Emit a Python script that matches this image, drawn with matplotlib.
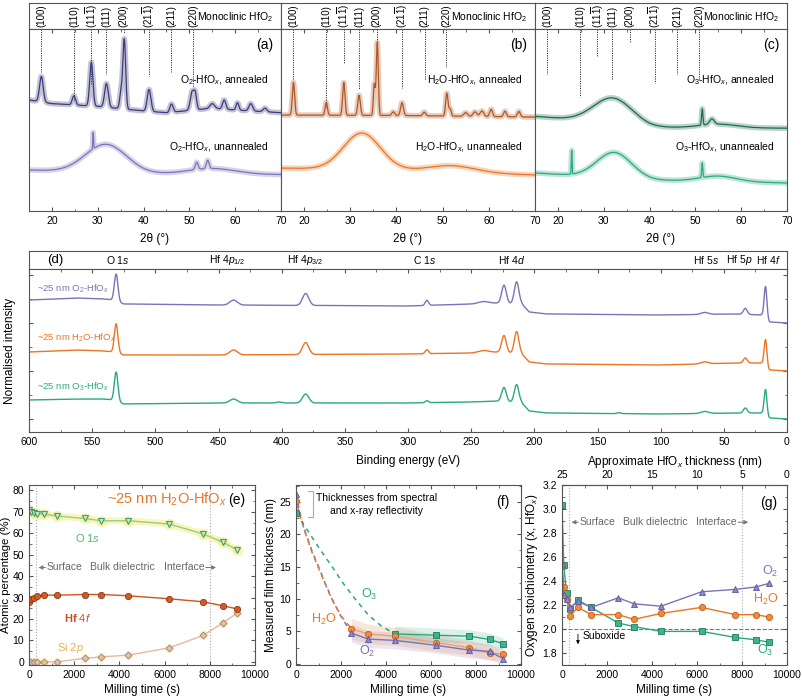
import numpy as np
import matplotlib.pyplot as plt
from matplotlib.ticker import MultipleLocator, NullFormatter

plt.rcParams['font.family'] = ['Liberation Sans', 'DejaVu Sans']
plt.rcParams['mathtext.fontset'] = 'custom'
plt.rcParams['mathtext.rm'] = 'Liberation Sans'
plt.rcParams['mathtext.it'] = 'Liberation Sans:italic'
plt.rcParams['mathtext.bf'] = 'Liberation Sans:bold'
plt.rcParams['font.size'] = 7.5
plt.rcParams['axes.linewidth'] = 0.8
plt.rcParams['axes.edgecolor'] = '#555555'
plt.rcParams['xtick.direction'] = 'in'
plt.rcParams['ytick.direction'] = 'in'
plt.rcParams['xtick.color'] = '#555555'
plt.rcParams['ytick.color'] = '#555555'
plt.rcParams['xtick.labelcolor'] = 'black'
plt.rcParams['ytick.labelcolor'] = 'black'

C_O2, C_O2_DK = '#7b73b9', '#3d3a7a'
C_H2O, C_H2O_DK = '#ec7424', '#b25524'
C_O3, C_O3_DK = '#2aa882', '#1b6b4f'

# ---------------- XRD data (a)-(c), y normalised 0..1 ----------------
hkl_labels = ['(100)', '(110)', r'(11$\overline{1}$)', '(111)', '(200)',
              r'(21$\overline{1}$)', '(211)', '(220)']
hkl_pos = [17.7, 24.8, 28.6, 31.9, 35.7, 41.2, 46.1, 50.8]
a_line_end = [0.764, 0.610, 0.692, 0.753, 0.978, 0.742, 0.764, 0.681]
b_line_end = [0.720, 0.571, 0.813, 0.670, 0.929, 0.676, 0.720, 0.791]
c_line_end = [0.753, 0.626, 0.852, 0.720, 0.923, 0.703, 0.753, 0.720]

a_ann_bx = [15, 20, 30, 40, 45, 55, 60, 70]
a_ann_by = [0.61, 0.59, 0.575, 0.55, 0.54, 0.565, 0.555, 0.54]
a_ann_pk = [(17.7, 0.14, 0.4), (24.8, 0.05, 0.35), (28.6, 0.24, 0.35), (31.9, 0.13, 0.4),
            (35.1, 0.09, 0.3), (35.8, 0.38, 0.3), (41.2, 0.12, 0.4), (46.1, 0.045, 0.35),
            (50.6, 0.10, 0.4), (51.3, 0.08, 0.3), (55.0, 0.025, 0.5), (57.6, 0.05, 0.35),
            (60.5, 0.04, 0.3), (63.4, 0.04, 0.4), (66.5, 0.02, 0.4)]
a_un_bx = [15, 40, 50, 70]
a_un_by = [0.225, 0.205, 0.205, 0.20]
a_un_pk = [(31.8, 0.155, 4.5), (55.0, 0.03, 5.0), (29.0, 0.09, 0.08),
           (51.6, 0.04, 0.3), (54.0, 0.045, 0.3)]

b_ann_bx = [15, 40, 70]
b_ann_by = [0.527, 0.525, 0.516]
b_ann_pk = [(17.7, 0.18, 0.25), (24.8, 0.07, 0.25), (28.6, 0.18, 0.25), (31.9, 0.11, 0.28),
            (35.2, 0.17, 0.2), (35.85, 0.40, 0.22), (39.3, 0.02, 0.3), (41.2, 0.07, 0.3),
            (46.0, 0.02, 0.3), (50.9, 0.125, 0.25), (51.6, 0.04, 0.25), (55.0, 0.02, 0.4),
            (57.0, 0.025, 0.4), (58.5, 0.03, 0.4), (60.5, 0.04, 0.3), (63.5, 0.03, 0.3),
            (66.5, 0.03, 0.3)]
b_un_bx = [15, 40, 70]
b_un_by = [0.236, 0.225, 0.198]
b_un_pk = [(32.5, 0.20, 4.0), (52.0, 0.035, 5.0)]

c_ann_bx = [15, 25, 40, 70]
c_ann_by = [0.52, 0.50, 0.46, 0.455]
c_ann_pk = [(32.0, 0.14, 4.2), (51.5, 0.09, 0.15), (53.6, 0.03, 0.5), (55.0, 0.02, 4.0)]
c_un_bx = [15, 40, 70]
c_un_by = [0.209, 0.17, 0.154]
c_un_pk = [(32.3, 0.14, 3.8), (23.0, 0.13, 0.08), (51.5, 0.08, 0.12), (55.0, 0.03, 4.0)]

# ---------------- XPS survey (d), intensity in arbitrary units ----------------
xps_bx = [600, 560, 540, 533, 525, 450, 300, 250, 228, 210, 204, 190, 100, 40, 20, 14, 0]
o2_xps_by = [132, 134, 133, 132, 128, 127, 126, 128, 129, 128, 120, 118, 117, 118, 117, 110, 109]
h2o_xps_by = [80, 82, 81, 80, 77, 77, 78, 79, 80, 78, 70, 68, 67, 69, 69, 62, 61]
o3_xps_by = [32, 33, 33, 32, 28, 29, 29, 30, 31, 29, 21, 19, 18, 19, 19, 14, 13]
o2_xps_pk = [(531, 27, 1.4), (438, 5, 3), (381, 12, 2.5), (285, 5, 1.3), (240, 2, 4),
             (224, 18, 1.8), (214, 22, 1.8), (65, 2, 3), (33, 6, 1.5), (17, 32, 1.1)]
h2o_xps_pk = [(531, 29, 1.4), (438, 5, 3), (381, 12, 2.5), (285, 4, 1.3), (240, 2, 4),
              (224, 17, 1.8), (214, 22, 1.8), (65, 2, 3), (33, 5, 1.5), (17, 27, 1.1)]
o3_xps_pk = [(531, 29, 1.4), (438, 4, 3), (381, 9, 2.5), (402, 1, 2), (285, 2, 1.3),
             (224, 14, 1.8), (214, 18, 1.8), (133, 1, 1.5), (65, 2, 3), (33, 5, 1.5),
             (17, 26, 1.1)]
xps_labels = [r'O $\mathit{1s}$', r'Hf $\mathit{4p}_{1/2}$', r'Hf $\mathit{4p}_{3/2}$',
              r'C $\mathit{1s}$', r'Hf $\mathit{4d}$', r'Hf $\mathit{5s}$', r'Hf $\mathit{5p}$',
              r'Hf $\mathit{4f}$']
xps_label_be = [530, 443, 381, 287, 218, 64, 38, 15]

# ---------------- (e) composition vs milling time ----------------
t_e = [0, 100, 220, 370, 665, 1250, 2460, 3200, 4400, 6200, 7700, 8600, 9200]
o1s_pct = [71, 70, 69.5, 69.2, 68.9, 68, 66.9, 65.8, 65.8, 64.3, 59.7, 55.7, 52.3]
hf4f_pct = [28, 29.5, 30, 30.5, 31.1, 31.1, 31.4, 31.4, 30.8, 29.4, 28, 26.1, 24.7]
si2p_pct = [0, 0, 0, 0, 0, 0, 1.6, 2.3, 3.1, 6.5, 12.3, 18.3, 22.7]

# ---------------- (f) thickness ----------------
t_f = [2460, 3200, 4400, 6200, 7700, 8600, 9200]
o2_thk = [4.75, 3.8, 3.6, 2.85, 2.1, 1.9, 0.8]
h2o_thk = [5.4, 4.6, 4.25, 3.25, 2.5, 1.6, 1.5]
t_f_o3 = [4400, 6200, 7700, 8600, 9200]
o3_thk = [4.6, 4.4, 4.25, 3.75, 3.1]
o2_thk_err = [1.4, 1.3, 1.3, 1.2, 1.2, 1.2, 1.0]
h2o_thk_err = [1.6, 1.5, 1.4, 1.3, 1.2, 1.1, 1.0]
o3_thk_err = [1.2, 1.1, 1.0, 1.0, 0.9]
lead_t = [0, 200, 400, 700, 1000, 1300, 1600, 2000, 2460]
lead_o2 = [26.2, 23.0, 20.5, 17.5, 15.0, 12.4, 10.0, 7.3, 4.75]
lead_h2o = [25.1, 22.6, 20.3, 17.3, 14.8, 12.3, 9.9, 7.4, 5.4]
lead_t_o3 = [0, 530, 1000, 1600, 2100, 2630, 3220, 3800, 4400]
lead_o3 = [23.2, 20.5, 18.0, 15.0, 12.4, 10.0, 7.5, 5.8, 4.6]

# ---------------- (g) stoichiometry ----------------
t_g = [0, 80, 200, 370, 700, 1300, 2500, 3200, 4400, 6200, 7700, 8600, 9200]
o2_x = [2.54, 2.28, 2.25, 2.18, 2.23, 2.18, 2.26, 2.21, 2.19, 2.31, 2.33, 2.35, 2.38]
h2o_x = [2.53, 2.35, 2.25, 2.11, 2.18, 2.12, 2.12, 2.08, 2.13, 2.18, 2.12, 2.12, 2.10]
o3_x = [3.03, 2.53, 2.30, 2.17, 2.24, 2.18, 2.05, 2.02, 1.98, 1.98, 1.93, 1.91, 1.89]

W, H = 802, 700
fig = plt.figure(figsize=(W / 100, H / 100), dpi=100)


def box(x0, y0, x1, y1):
    return [x0 / W, 1 - y1 / H, (x1 - x0) / W, (y1 - y0) / H]


def spectrum(x, bx, by, peaks):
    order = np.argsort(bx)
    y = np.interp(x, np.array(bx)[order], np.array(by)[order])
    for c, h, w in peaks:
        y = y + h * np.exp(-0.5 * ((x - c) / w) ** 2)
    return y


# ---------------- top row: XRD ----------------
xx = np.linspace(15, 70, 2200)
xrd_panels = [
    (29, 281, a_line_end, (a_ann_bx, a_ann_by, a_ann_pk), (a_un_bx, a_un_by, a_un_pk),
     C_O2_DK, C_O2, 'O$_2$', '(a)'),
    (281, 535, b_line_end, (b_ann_bx, b_ann_by, b_ann_pk), (b_un_bx, b_un_by, b_un_pk),
     C_H2O_DK, C_H2O, 'H$_2$O', '(b)'),
    (535, 787, c_line_end, (c_ann_bx, c_ann_by, c_ann_pk), (c_un_bx, c_un_by, c_un_pk),
     C_O3_DK, C_O3, 'O$_3$', '(c)'),
]
for l, r, ends, ann, un, c_ann, c_un, name, tag in xrd_panels:
    hx = fig.add_axes(box(l, 3, r, 29))
    hx.set_xlim(15, 70)
    hx.set_ylim(0, 1)
    hx.set_xticks([])
    hx.set_yticks([])
    for p, lab in zip(hkl_pos, hkl_labels):
        hx.text(p, 0.5, lab, rotation=90, ha='center', va='center', fontsize=7)
    hx.text(0.97, 0.45, 'Monoclinic HfO$_2$', transform=hx.transAxes,
            ha='right', va='center', fontsize=7.5)

    ax = fig.add_axes(box(l, 29, r, 211))
    ax.set_xlim(15, 70)
    ax.set_ylim(0, 1)
    ax.set_yticks([])
    ax.xaxis.set_major_locator(MultipleLocator(10))
    ax.xaxis.set_minor_locator(MultipleLocator(5))
    ax.tick_params(axis='x', which='both', top=True, labelsize=7.5)
    ax.tick_params(axis='x', which='major', length=3)
    ax.tick_params(axis='x', which='minor', length=1.8)
    for p, e in zip(hkl_pos, ends):
        ax.plot([p, p], [1.0, e], color='#333333', ls=(0, (1.2, 1.2)), lw=0.7)
    ya = spectrum(xx, *ann)
    yu = spectrum(xx, *un)
    ax.plot(xx, ya, color=c_ann, lw=4.0, alpha=0.3)
    ax.plot(xx, ya, color=c_ann, lw=0.9)
    ax.plot(xx, yu, color=c_un, lw=4.0, alpha=0.3)
    ax.plot(xx, yu, color=c_un, lw=0.9)
    ax.text(0.95, 0.72, name + '-HfO$_x$, annealed', transform=ax.transAxes,
            ha='right', va='center', fontsize=7.5)
    ax.text(0.95, 0.35, name + '-HfO$_x$, unannealed', transform=ax.transAxes,
            ha='right', va='center', fontsize=7.5)
    ax.text(0.97, 0.95, tag, transform=ax.transAxes, ha='right', va='top', fontsize=10)
    ax.set_xlabel('2\u03b8 (\u00b0)', fontsize=8.5, labelpad=5)

# ---------------- (d) XPS survey ----------------
hd = fig.add_axes(box(29, 251, 787, 269))
hd.set_xlim(600, 0)
hd.set_ylim(0, 1)
hd.set_xticks([])
hd.set_yticks([])
hd.text(579, 0.5, '(d)', ha='center', va='center', fontsize=9.5)
for e, lab in zip(xps_label_be, xps_labels):
    hd.text(e, 0.5, lab, ha='center', va='center', fontsize=7.5)

axd = fig.add_axes(box(29, 269, 787, 432))
be = np.linspace(0, 600, 4000)
for by, pk, col in [(o2_xps_by, o2_xps_pk, C_O2), (h2o_xps_by, h2o_xps_pk, C_H2O),
                    (o3_xps_by, o3_xps_pk, C_O3)]:
    axd.plot(be, spectrum(be, xps_bx, by, pk), color=col, lw=1.0)
axd.text(594, 143, '~25 nm O$_2$-HfO$_x$', color=C_O2, fontsize=6.8, ha='left', va='center')
axd.text(594, 94, '~25 nm H$_2$O-HfO$_x$', color=C_H2O, fontsize=6.8, ha='left', va='center')
axd.text(594, 45, '~25 nm O$_3$-HfO$_x$', color=C_O3, fontsize=6.8, ha='left', va='center')
axd.set_xlim(600, 0)
axd.set_ylim(0, 163)
axd.xaxis.set_major_locator(MultipleLocator(50))
axd.xaxis.set_minor_locator(MultipleLocator(25))
axd.set_yticks([13, 61, 109, 157])
axd.set_yticks([37, 85, 133], minor=True)
axd.yaxis.set_major_formatter(NullFormatter())
axd.tick_params(axis='both', which='both', top=True, right=True, labelsize=7.5)
axd.tick_params(which='major', length=3)
axd.tick_params(which='minor', length=1.8)
axd.set_xlabel('Binding energy (eV)', fontsize=8.5, labelpad=6)
axd.set_ylabel('Normalised intensity', fontsize=8.5, labelpad=6)


def region_marks(ax, y):
    for xv in (300, 8000):
        ax.axvline(xv, color='#aaaaaa', ls=':', lw=0.8, zorder=0)
    ax.annotate('', xy=(300, y), xytext=(850, y),
                arrowprops=dict(arrowstyle='-|>', color='#777777', lw=0.7,
                                mutation_scale=6))
    ax.annotate('', xy=(8400, y), xytext=(7700, y),
                arrowprops=dict(arrowstyle='-|>', color='#777777', lw=0.7,
                                mutation_scale=6))
    ax.text(1580, y, 'Surface', color='#666666', ha='center', va='center', fontsize=7.5)
    ax.text(4150, y, 'Bulk dielectric', color='#666666', ha='center', va='center',
            fontsize=7.5)
    ax.text(6860, y, 'Interface', color='#666666', ha='center', va='center', fontsize=7.5)


def time_axis(ax):
    ax.set_xlim(0, 10000)
    ax.xaxis.set_major_locator(MultipleLocator(2000))
    ax.xaxis.set_minor_locator(MultipleLocator(1000))
    ax.tick_params(axis='both', which='both', right=True, labelsize=7.5)
    ax.tick_params(which='major', length=3)
    ax.tick_params(which='minor', length=1.8)
    ax.set_xlabel('Milling time (s)', fontsize=8.5, labelpad=3)


# ---------------- (e) ----------------
axe = fig.add_axes(box(29, 485, 255, 665))
time_axis(axe)
axe.tick_params(axis='x', which='both', top=True)
axe.set_ylim(-1.5, 82.5)
axe.yaxis.set_major_locator(MultipleLocator(10))
axe.yaxis.set_minor_locator(MultipleLocator(5))
region_marks(axe, 44)
axe.plot(t_e, o1s_pct, color='#fbf3a8', lw=5, alpha=0.8, solid_capstyle='round')
axe.plot(t_e, o1s_pct, 'o', color='#fbef90', ms=8, alpha=0.7, mec='none')
axe.plot(t_e, o1s_pct, '-', color='#8fcf92', lw=1.0)
axe.plot(t_e, o1s_pct, 'v', ms=4.5, mfc='#cdebc6', mec='#3e9e78', mew=0.8, ls='none')
axe.plot(t_e, si2p_pct, 'o', color='#fbef90', ms=7, alpha=0.5, mec='none')
axe.plot(t_e, si2p_pct, '-', color='#f2b3a2', lw=1.0)
axe.plot(t_e, si2p_pct, 'D', ms=3.5, mfc='#f6c46c', mec='#8f89c4', mew=0.7, ls='none')
axe.plot(t_e, hf4f_pct, '-', color='#d0541e', lw=1.0)
axe.plot(t_e, hf4f_pct, 'o', ms=4.5, mfc='#d9581f', mec='#8a3a1a', mew=0.6, ls='none')
axe.text(8750, 76, '~25 nm H$_2$O-HfO$_x$', color=C_H2O, fontsize=10.5, ha='right',
         va='center')
axe.text(0.955, 0.915, '(e)', transform=axe.transAxes, ha='right', va='center', fontsize=10)
axe.text(2600, 58, r'O $\mathit{1s}$', color='#55b86e', fontsize=8, ha='center', va='center')
axe.text(2150, 20.5, r'Hf $\mathit{4f}$', color='#c8501e', fontsize=8, ha='center',
         va='center', fontweight='bold')
axe.text(1850, 6.5, r'Si $\mathit{2p}$', color='#f0b050', fontsize=8, ha='center',
         va='center')
axe.set_ylabel('Atomic percentage (%)', fontsize=8.2, labelpad=1)

# ---------------- (f) ----------------
axf = fig.add_axes(box(296, 485, 521, 665))
time_axis(axf)
axf.tick_params(axis='x', which='both', top=True)
axf.set_ylim(-0.2, 27.6)
axf.yaxis.set_major_locator(MultipleLocator(5))
axf.yaxis.set_minor_locator(MultipleLocator(2.5))
for tt, yy, ee, col in [(t_f, o2_thk, o2_thk_err, C_O2), (t_f, h2o_thk, h2o_thk_err, C_H2O),
                        (t_f_o3, o3_thk, o3_thk_err, C_O3)]:
    yy = np.array(yy)
    ee = np.array(ee)
    axf.fill_between(tt, yy - ee, yy + ee, color=col, alpha=0.17, lw=0)
axf.plot(lead_t, lead_o2, color=C_O2, ls=(0, (3, 3)), lw=1.1)
axf.plot(lead_t, lead_h2o, color=C_H2O, ls=(3, (3, 3)), lw=1.1)
axf.plot(lead_t_o3, lead_o3, color=C_O3, ls=(0, (3, 3)), lw=1.1)
axf.plot(t_f_o3, o3_thk, '-', color=C_O3, lw=1.0)
axf.plot(t_f_o3, o3_thk, 's', ms=4.2, mfc='#3cb48c', mec='#1f7a5a', mew=0.6)
axf.plot(t_f, h2o_thk, '-', color='#f0a070', lw=1.0)
axf.plot(t_f, h2o_thk, 'o', ms=4.5, mfc='#f08a3c', mec='#c0601c', mew=0.6)
axf.plot(t_f, o2_thk, '-', color=C_O2, lw=1.0)
axf.plot(t_f, o2_thk, '^', ms=4.8, mfc='#8f88c8', mec='#5c55a0', mew=0.6)
axf.plot([0], [lead_o2[0]], '^', ms=4.8, mfc='#8f88c8', mec='#5c55a0', mew=0.6)
axf.plot([0], [lead_h2o[0]], 'o', ms=4.5, mfc='#f08a3c', mec='#c0601c', mew=0.6)
axf.plot([0], [lead_o3[0]], 's', ms=4.2, mfc='#3cb48c', mec='#1f7a5a', mew=0.6)
axf.plot([530, 760, 760, 530], [26.6, 26.6, 22.6, 22.6], color='#aaaaaa', lw=0.8)
axf.text(3600, 24.6, 'Thicknesses from spectral\nand x-ray reflectivity', ha='center',
         va='center', fontsize=7.5, linespacing=1.3)
axf.text(0.95, 0.905, '(f)', transform=axf.transAxes, ha='right', va='center', fontsize=10)
axf.text(3230, 10.7, 'O$_3$', color=C_O3, fontsize=9, ha='center', va='center')
axf.text(1250, 6.9, 'H$_2$O', color=C_H2O, fontsize=9, ha='center', va='center')
axf.text(3150, 1.9, 'O$_2$', color=C_O2, fontsize=9, ha='center', va='center')
axf.set_ylabel('Measured film thickness (nm)', fontsize=8.5, labelpad=2)

# ---------------- (g) ----------------
axg = fig.add_axes(box(562, 485, 787, 665))
time_axis(axg)
axg.set_ylim(1.7, 3.2)
axg.yaxis.set_major_locator(MultipleLocator(0.2))
axg.yaxis.set_minor_locator(MultipleLocator(0.1))
region_marks(axg, 2.89)
axg.axhline(2.0, color='#777777', ls='--', lw=0.8, zorder=0)
axg.annotate('', xy=(710, 1.85), xytext=(710, 1.98),
             arrowprops=dict(arrowstyle='-|>', color='black', lw=0.6, mutation_scale=5))
axg.text(900, 1.94, 'Suboxide', ha='left', va='center', fontsize=7.5)
axg.plot(t_g, o3_x, '-', color=C_O3, lw=1.0)
axg.plot(t_g, o3_x, 's', ms=4.2, mfc='#3cb48c', mec='#1f7a5a', mew=0.6)
axg.plot(t_g, h2o_x, '-', color=C_H2O, lw=1.0)
axg.plot(t_g, h2o_x, 'o', ms=4.5, mfc='#f08a3c', mec='#c0601c', mew=0.6)
axg.plot(t_g, o2_x, '-', color=C_O2, lw=1.0)
axg.plot(t_g, o2_x, '^', ms=4.8, mfc='#8f88c8', mec='#5c55a0', mew=0.6)
axg.text(9250, 2.48, 'O$_2$', color=C_O2, fontsize=9, ha='center', va='center')
axg.text(9050, 2.25, 'H$_2$O', color=C_H2O, fontsize=9, ha='center', va='center')
axg.text(9050, 1.82, 'O$_3$', color=C_O3, fontsize=9, ha='center', va='center')
axg.text(0.955, 0.9, '(g)', transform=axg.transAxes, ha='right', va='center', fontsize=10)
axg.set_ylabel('Oxygen stoichiometry (x, HfO$_x$)', fontsize=8.5, labelpad=2)
sec = axg.secondary_xaxis('top', functions=(lambda t: 25 - t / 400.0,
                                             lambda d: (25 - d) * 400.0))
sec.set_xticks([25, 20, 15, 10, 5, 0])
sec.xaxis.set_minor_locator(MultipleLocator(2.5))
sec.tick_params(which='both', direction='in', labelsize=7.5)
sec.tick_params(which='major', length=3)
sec.tick_params(which='minor', length=1.8)
sec.set_xlabel('Approximate HfO$_x$ thickness (nm)', fontsize=8.5, labelpad=4)

fig.savefig('out.png', dpi=100)
